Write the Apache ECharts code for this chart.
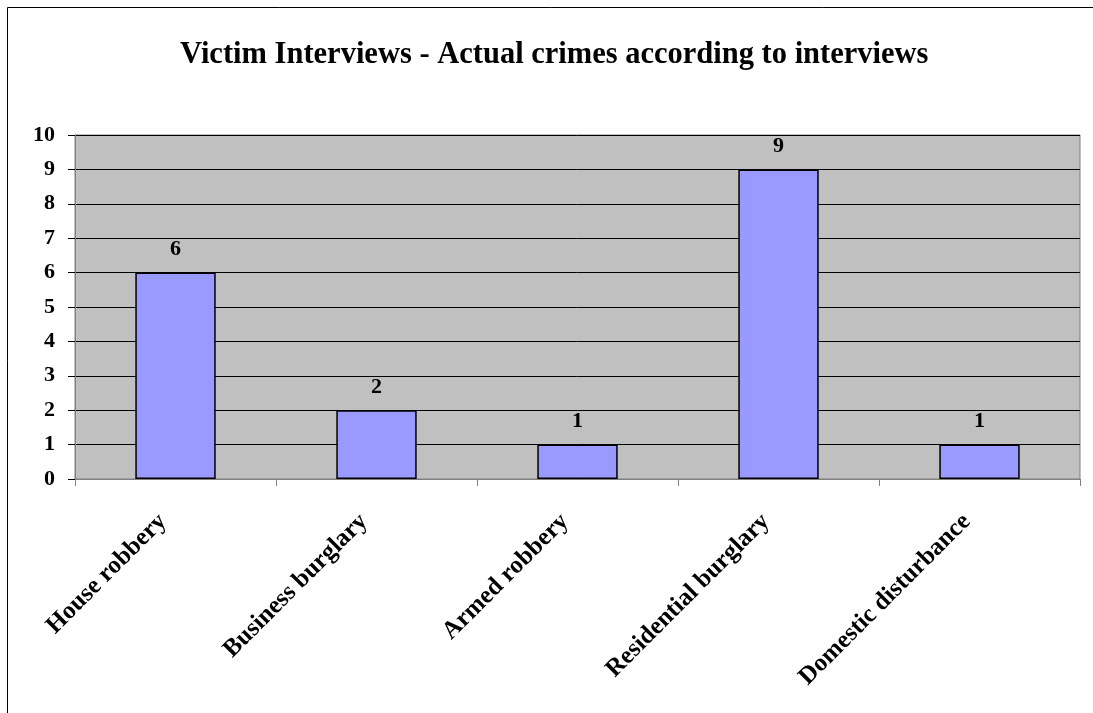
<!DOCTYPE html>
<html><head><meta charset="utf-8">
<script src="https://cdn.jsdelivr.net/npm/echarts@6/dist/echarts.min.js"></script>
<style>html,body{margin:0;padding:0;background:#fff}#c{width:1093px;height:713px}</style>
</head><body><div id="c"></div>
<script>
const titleText = "Victim Interviews - Actual crimes according to interviews";
const categories = ["House robbery","Business burglary","Armed robbery","Residential burglary","Domestic disturbance"];
const values = [6,2,1,9,1];
const yTicks = {min:0,max:10,interval:1};
const font = "'Liberation Serif','Times New Roman',serif";
const chart = echarts.init(document.getElementById('c'));
chart.setOption({
  animation:false,
  backgroundColor:'#fff',
  title:{text:titleText,left:175,top:35,textStyle:{fontFamily:font,fontWeight:'bold',fontSize:30.5,color:'#000'}},
  graphic:[{type:'rect',shape:{x:7.5,y:7.5,width:1200,height:800},style:{fill:'none',stroke:'#000',lineWidth:1},silent:true}],
  grid:{left:75,right:13,top:135,bottom:234,show:true,backgroundColor:'#C0C0C0',borderColor:'#808080',borderWidth:1},
  xAxis:{type:'category',data:categories,
    axisLine:{lineStyle:{color:'#808080',width:1}},
    axisTick:{show:true,alignWithLabel:false,length:7,lineStyle:{color:'#808080'}},
    axisLabel:{rotate:45,margin:26,padding:[0,18,0,0],fontFamily:font,fontWeight:'bold',fontSize:25,color:'#000',interval:0}},
  yAxis:{type:'value',min:yTicks.min,max:yTicks.max,interval:yTicks.interval,
    axisLine:{show:true,lineStyle:{color:'#808080'}},
    axisTick:{show:true,length:7,lineStyle:{color:'#000'}},
    splitLine:{lineStyle:{color:'#000',width:1}},
    axisLabel:{margin:20,fontFamily:font,fontWeight:'bold',fontSize:22,color:'#000'}},
  series:[{type:'bar',data:values,barCategoryGap:'60%',
    itemStyle:{color:'#9999FF',borderColor:'#000',borderWidth:1.5},
    label:{show:true,position:'top',distance:12,fontFamily:font,fontWeight:'bold',fontSize:22,color:'#000'}}]
});
</script></body></html>
